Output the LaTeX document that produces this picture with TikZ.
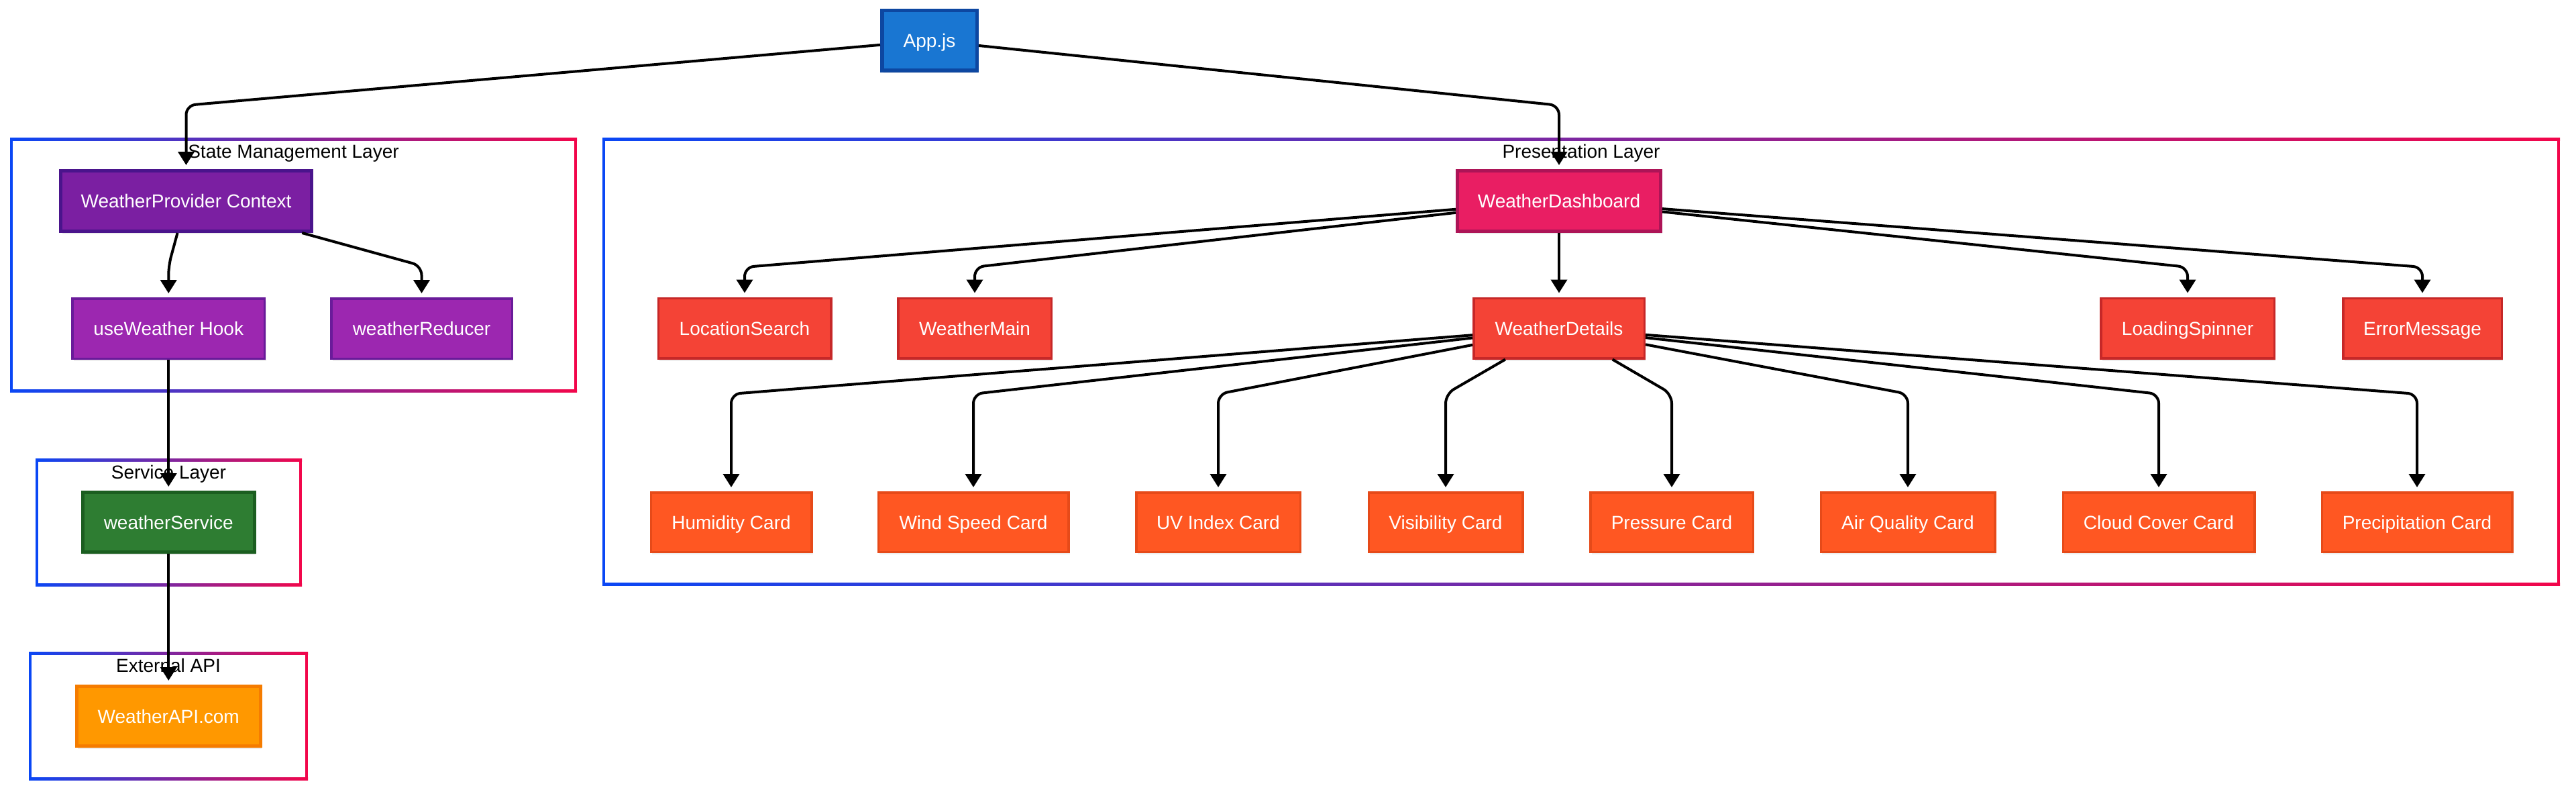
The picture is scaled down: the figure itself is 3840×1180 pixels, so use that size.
\documentclass[tikz,border=0pt]{standalone}
\usepackage{fontspec}
\setmainfont{Liberation Sans}
\usetikzlibrary{arrows.meta,shadows}
\definecolor{cblue}{HTML}{0A47F5}
\definecolor{cred}{HTML}{F2064B}
\definecolor{appfill}{HTML}{1976D2}\definecolor{appdraw}{HTML}{0D47A1}
\definecolor{provfill}{HTML}{7B1FA2}\definecolor{provdraw}{HTML}{4A148C}
\definecolor{hookfill}{HTML}{9C27B0}\definecolor{hookdraw}{HTML}{6A1B9A}
\definecolor{servfill}{HTML}{2E7D32}\definecolor{servdraw}{HTML}{1B5E20}
\definecolor{apifill}{HTML}{FF9800}\definecolor{apidraw}{HTML}{F57C00}
\definecolor{dashfill}{HTML}{E91E63}\definecolor{dashdraw}{HTML}{AD1457}
\definecolor{redfill}{HTML}{F44336}\definecolor{reddraw}{HTML}{C62828}
\definecolor{cardfill}{HTML}{FF5722}\definecolor{carddraw}{HTML}{E64A19}
\pgfdeclarelayer{background}
\pgfsetlayers{background,main}
\newcommand{\layerframe}[5]{%
  \fill[cblue] (#1,#2) rectangle ({#1+4},#4);
  \fill[cred] ({#3-4},#2) rectangle (#3,#4);
  \shade[left color=cblue,right color=cred] (#1,#2) rectangle (#3,{#2+4});
  \shade[left color=cblue,right color=cred] (#1,{#4-4}) rectangle (#3,#4);
  \node[ltitle] at ({(#1+#3)/2},{#2+30}) {#5};
}
\begin{document}
\begin{tikzpicture}[x=1pt,y=-1pt,
  box/.style={draw, text=white, inner sep=0pt, text height=20pt, text depth=0pt,
    font=\fontsize{28}{34}\selectfont,
    drop shadow={opacity=0.13, shadow xshift=2pt, shadow yshift=-4pt}},
  appst/.style={box, fill=appfill, draw=appdraw, line width=5.5pt, minimum height=89.5pt},
  provst/.style={box, fill=provfill, draw=provdraw, line width=5pt, minimum height=90pt},
  hookst/.style={box, fill=hookfill, draw=hookdraw, line width=3.5pt, minimum height=89.5pt},
  servst/.style={box, fill=servfill, draw=servdraw, line width=5pt, minimum height=89pt},
  apist/.style={box, fill=apifill, draw=apidraw, line width=5pt, minimum height=89pt},
  dashst/.style={box, fill=dashfill, draw=dashdraw, line width=5pt, minimum height=90pt},
  redst/.style={box, fill=redfill, draw=reddraw, line width=3.5pt, minimum height=89.5pt},
  cardst/.style={box, fill=cardfill, draw=carddraw, line width=3.5pt, minimum height=88.5pt},
  ltitle/.style={anchor=base, text=black, inner sep=0pt, font=\fontsize{28}{34}\selectfont},
  edge/.style={draw=black, line width=4pt, line join=round, rounded corners=14pt,
    -{Triangle[length=20pt,width=24pt]}, shorten >=6pt}
]
\useasboundingbox (0,0) rectangle (3840,1180);
\begin{pgfonlayer}{background}
  \fill[white] (0,0) rectangle (3840,1180);
  \layerframe{15}{205}{860}{584}{State Management Layer}
  \layerframe{898}{205}{3816}{872}{Presentation Layer}
  \layerframe{53}{683}{450}{873}{Service Layer}
  \layerframe{43}{971}{459}{1162}{External API}
\end{pgfonlayer}

% nodes
\node[appst, minimum width=141.5pt] (app) at (1385.5,60.5) {App.js};
\node[provst, minimum width=374pt] (wp) at (277.5,299.5) {WeatherProvider Context};
\node[hookst, minimum width=286.5pt] (hook) at (251.25,489.5) {useWeather Hook};
\node[hookst, minimum width=269.5pt] (reducer) at (628.5,489.5) {weatherReducer};
\node[servst, minimum width=256pt] (service) at (251.25,778) {weatherService};
\node[apist, minimum width=274pt] (api) at (251.25,1067) {WeatherAPI.com};
\node[dashst, minimum width=303pt] (dash) at (2324,299.5) {WeatherDashboard};
\node[redst, minimum width=257.5pt] (loc) at (1110,489) {LocationSearch};
\node[redst, minimum width=228.5pt] (wmain) at (1453,489) {WeatherMain};
\node[redst, minimum width=254.5pt] (details) at (2324,489) {WeatherDetails};
\node[redst, minimum width=258.5pt] (spinner) at (3261,489) {LoadingSpinner};
\node[redst, minimum width=236.5pt] (error) at (3611,489) {ErrorMessage};
\node[cardst, minimum width=239.5pt] (humidity) at (1090,778) {Humidity Card};
\node[cardst, minimum width=283.5pt] (wind) at (1451,778) {Wind Speed Card};
\node[cardst, minimum width=244.5pt] (uv) at (1816,778) {UV Index Card};
\node[cardst, minimum width=229.5pt] (vis) at (2155,778) {Visibility Card};
\node[cardst, minimum width=242.5pt] (pressure) at (2492,778) {Pressure Card};
\node[cardst, minimum width=259.5pt] (air) at (2844,778) {Air Quality Card};
\node[cardst, minimum width=285.5pt] (cloud) at (3218,778) {Cloud Cover Card};
\node[cardst, minimum width=283.5pt] (precip) at (3603,778) {Precipitation Card};

% bend points
\coordinate (k1) at (277.5,157);
\coordinate (k2) at (2324,157);
\coordinate (k3) at (251.25,396);
\coordinate (k4) at (628.5,396);
\coordinate (kloc) at (1110,398);
\coordinate (kmain) at (1453,398);
\coordinate (kspin) at (3261,398);
\coordinate (kerr) at (3611,398);
\coordinate (khum) at (1090,587);
\coordinate (kwind) at (1451,587);
\coordinate (kuv) at (1816,587);
\coordinate (kvis) at (2155,587);
\coordinate (kpres) at (2492,587);
\coordinate (kair) at (2844,587);
\coordinate (kcloud) at (3218,587);
\coordinate (kprec) at (3603,587);

% edges
\draw[edge] (app) -- (k1) -- (wp);
\draw[edge] (app) -- (k2) -- (dash);
\draw[edge] (wp) -- (k3) -- (hook);
\draw[edge] (wp) -- (k4) -- (reducer);
\draw[edge] (hook) -- (service);
\draw[edge] (service) -- (api);
\draw[edge] (dash) -- (kloc) -- (loc);
\draw[edge] (dash) -- (kmain) -- (wmain);
\draw[edge] (dash) -- (details);
\draw[edge] (dash) -- (kspin) -- (spinner);
\draw[edge] (dash) -- (kerr) -- (error);
\draw[edge] (details) -- (khum) -- (humidity);
\draw[edge] (details) -- (kwind) -- (wind);
\draw[edge] (details) -- (kuv) -- (uv);
\draw[edge] (details) -- (kvis) -- (vis);
\draw[edge] (details) -- (kpres) -- (pressure);
\draw[edge] (details) -- (kair) -- (air);
\draw[edge] (details) -- (kcloud) -- (cloud);
\draw[edge] (details) -- (kprec) -- (precip);
\end{tikzpicture}
\end{document}
